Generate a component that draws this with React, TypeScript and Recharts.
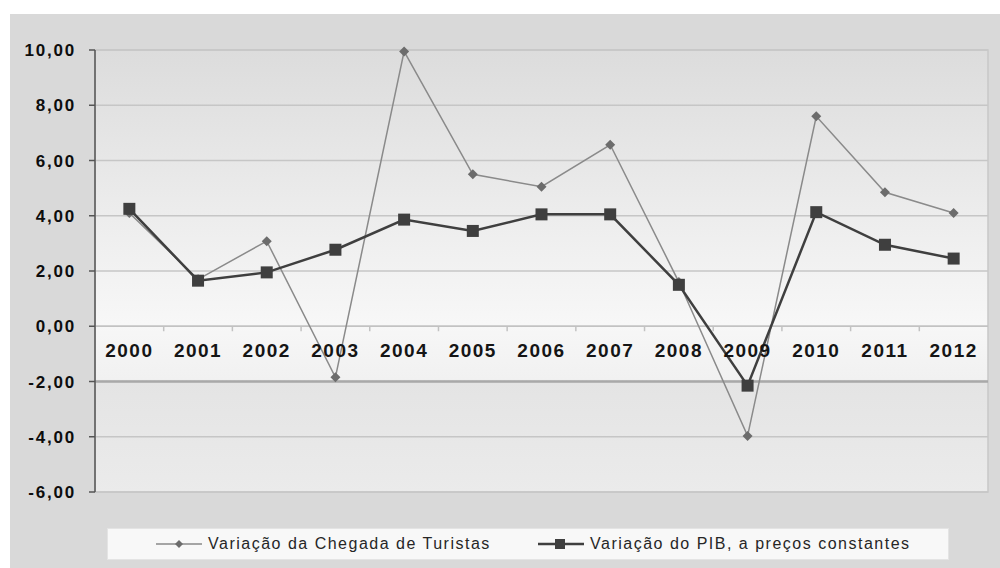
import React from 'react';
import {
  LineChart,
  Line,
  XAxis,
  YAxis,
  CartesianGrid,
  ReferenceLine,
  ReferenceArea,
  ReferenceDot,
} from 'recharts';

const years = ['2000', '2001', '2002', '2003', '2004', '2005', '2006', '2007', '2008', '2009', '2010', '2011', '2012'];
const chegadaTuristas = [4.1, 1.7, 3.08, -1.85, 9.95, 5.5, 5.05, 6.57, 1.6, -3.97, 7.6, 4.85, 4.1];
const variacaoPib = [4.25, 1.65, 1.95, 2.77, 3.86, 3.45, 4.05, 4.05, 1.5, -2.15, 4.13, 2.95, 2.45];
const yTicks = [-6, -4, -2, 0, 2, 4, 6, 8, 10];

const data = years.map((ano, i) => ({
  ano,
  turistas: chegadaTuristas[i],
  pib: variacaoPib[i],
}));

const FONT = '"Liberation Sans", Arial, sans-serif';

const fmt = (v: number) => v.toFixed(2).replace('.', ',');

const Diamond = (props: any) => {
  const { cx, cy } = props;
  if (cx == null || cy == null) return null;
  const s = 5;
  return (
    <path
      d={`M${cx},${cy - s}L${cx + s},${cy}L${cx},${cy + s}L${cx - s},${cy}Z`}
      fill="#6c6c6c"
      stroke="none"
    />
  );
};

const Square = (props: any) => {
  const { cx, cy } = props;
  if (cx == null || cy == null) return null;
  const s = 12;
  return <rect x={cx - s / 2} y={cy - s / 2} width={s} height={s} fill="#3f3f3f" />;
};

// zero line with small tick marks at the category boundaries
const ZeroAxis = (props: any) => {
  const { x1, y1, x2 } = props;
  if (x1 == null) return null;
  const band = (x2 - x1) / years.length;
  return (
    <g>
      <line x1={x1} y1={y1} x2={x2} y2={y1} stroke="#c2c2c2" strokeWidth={1.5} />
      {years.slice(1).map((_, i) => (
        <line
          key={i}
          x1={x1 + band * (i + 1)}
          x2={x1 + band * (i + 1)}
          y1={y1}
          y2={y1 + 5}
          stroke="#c2c2c2"
          strokeWidth={1.5}
        />
      ))}
    </g>
  );
};

const LegendBox = () => (
  <div
    style={{
      position: 'absolute',
      left: 107,
      top: 528,
      width: 842,
      height: 32,
      background: '#f8f8f8',
      border: '1px solid #e4e4e4',
      boxSizing: 'border-box',
      fontFamily: FONT,
      fontSize: 16,
      letterSpacing: 1.5,
      color: '#262626',
    }}
  >
    <div style={{ position: 'absolute', left: 48, top: 6, display: 'flex', alignItems: 'center' }}>
      <svg width={46} height={16}>
        <line x1={0} y1={8} x2={46} y2={8} stroke="#8a8a8a" strokeWidth={1.5} />
        <path d="M23,4L27,8L23,12L19,8Z" fill="#6c6c6c" />
      </svg>
      <span style={{ marginLeft: 6 }}>Variação da Chegada de Turistas</span>
    </div>
    <div style={{ position: 'absolute', left: 430, top: 6, display: 'flex', alignItems: 'center' }}>
      <svg width={46} height={16}>
        <line x1={0} y1={8} x2={46} y2={8} stroke="#3f3f3f" strokeWidth={2.5} />
        <rect x={17} y={3} width={10} height={10} fill="#3f3f3f" />
      </svg>
      <span style={{ marginLeft: 6 }}>Variação do PIB, a preços constantes</span>
    </div>
  </div>
);

export default function App() {
  return (
    <div style={{ position: 'absolute', left: 0, top: 0, width: 1000, height: 568, background: '#fff', overflow: 'hidden' }}>
      <div style={{ position: 'absolute', left: 10, top: 14, width: 990, height: 554, background: '#d9d9d9' }} />
      <div style={{ position: 'absolute', left: 0, top: 0 }}>
        <LineChart width={1000} height={568} data={data} margin={{ top: 50, right: 12, bottom: 76, left: 0 }}>
          <defs>
            <linearGradient id="plotBg" x1="0" y1="0" x2="0" y2="1">
              <stop offset="0%" stopColor="#dcdcdc" />
              <stop offset="45%" stopColor="#f0f0f0" />
              <stop offset="62%" stopColor="#f7f7f7" />
              <stop offset="74.5%" stopColor="#f1f1f1" />
              <stop offset="75%" stopColor="#e4e4e4" />
              <stop offset="100%" stopColor="#ebebeb" />
            </linearGradient>
          </defs>
          <CartesianGrid vertical={false} stroke="#c6c6c6" strokeWidth={1.5} fill="url(#plotBg)" fillOpacity={1} />
          <ReferenceArea y1={-6} y2={10} fill="none" stroke="#c8c8c8" strokeWidth={1.5} ifOverflow="visible" />
          <XAxis dataKey="ano" scale="band" hide />
          <YAxis
            width={95}
            domain={[-6, 10]}
            ticks={yTicks}
            interval={0}
            tickFormatter={fmt}
            axisLine={{ stroke: '#555', strokeWidth: 1.5 }}
            tickLine={{ stroke: '#555', strokeWidth: 1.5 }}
            tickSize={6}
            tickMargin={13}
            tick={{ fill: '#0d0d0d', fontSize: 17, fontWeight: 700, fontFamily: FONT, letterSpacing: 1.8 }}
          />
          <ReferenceLine y={-2} stroke="#a9a9a9" strokeWidth={2.5} />
          <ReferenceLine y={0} shape={ZeroAxis} />
          {years.map((ano) => (
            <ReferenceDot
              key={ano}
              x={ano}
              y={0}
              r={0}
              fill="none"
              stroke="none"
              label={{
                value: ano,
                position: 'bottom',
                offset: 17,
                fill: '#151515',
                fontSize: 19,
                fontWeight: 700,
                fontFamily: FONT,
                letterSpacing: 1.5,
              }}
            />
          ))}
          <Line
            dataKey="turistas"
            name="Variação da Chegada de Turistas"
            stroke="#8a8a8a"
            strokeWidth={1.5}
            dot={<Diamond />}
            activeDot={false}
            isAnimationActive={false}
          />
          <Line
            dataKey="pib"
            name="Variação do PIB, a preços constantes"
            stroke="#3f3f3f"
            strokeWidth={2.5}
            dot={<Square />}
            activeDot={false}
            isAnimationActive={false}
          />
        </LineChart>
      </div>
      <LegendBox />
    </div>
  );
}
